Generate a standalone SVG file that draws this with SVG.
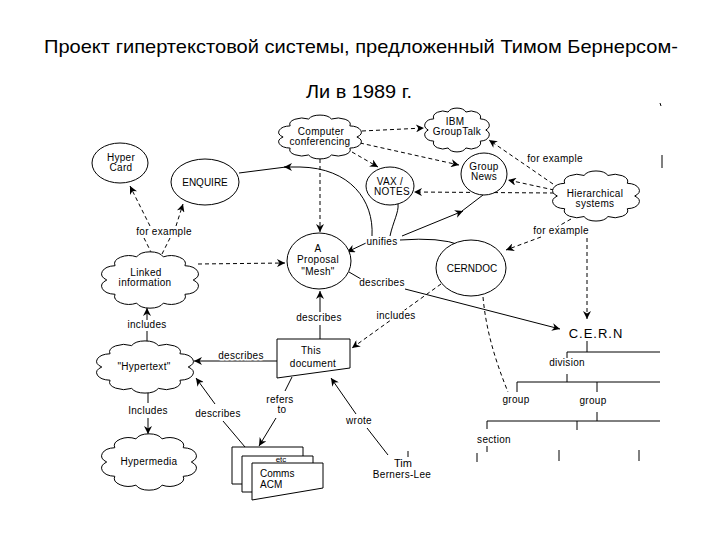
<svg xmlns="http://www.w3.org/2000/svg" xmlns:xlink="http://www.w3.org/1999/xlink" width="720" height="540" viewBox="0 0 720 540">
<style>
.t{font-family:"Liberation Sans",Arial,sans-serif;fill:#000}
.title{font-size:19px}
.lb{font-size:10px;letter-spacing:0.3px;text-anchor:middle}
.lbw{font-size:10px;letter-spacing:0.3px;text-anchor:middle;paint-order:stroke;stroke:#fff;stroke-width:3px;stroke-linejoin:round}
.shape{fill:#fff;stroke:#000;stroke-width:1}
.ln{fill:none;stroke:#000;stroke-width:1}
.ar{fill:none;stroke:#000;stroke-width:1;marker-end:url(#ah)}
.dl{fill:none;stroke:#000;stroke-width:1;stroke-dasharray:4 3}
.da{fill:none;stroke:#000;stroke-width:1;stroke-dasharray:4 3;marker-end:url(#ah)}
</style>
<defs>
<marker id="ah" viewBox="0 0 10 10" refX="10" refY="5" markerWidth="9" markerHeight="8" orient="auto" markerUnits="userSpaceOnUse">
<path d="M0,0 L10,5 L0,10 L3,5 Z" fill="#000"/>
</marker>
<path id="cloud" vector-effect="non-scaling-stroke" d="M0.9,0 A0.3,0.3 0 0 1 0.728,0.529 A0.3,0.3 0 0 1 0.278,0.856 A0.3,0.3 0 0 1 -0.278,0.856 A0.3,0.3 0 0 1 -0.728,0.529 A0.3,0.3 0 0 1 -0.9,0 A0.3,0.3 0 0 1 -0.728,-0.529 A0.3,0.3 0 0 1 -0.278,-0.856 A0.3,0.3 0 0 1 0.278,-0.856 A0.3,0.3 0 0 1 0.728,-0.529 A0.3,0.3 0 0 1 0.9,0 Z"/>
</defs>
<rect width="720" height="540" fill="#fff"/>
<g id="title">
<text class="t title" x="44" y="53" textLength="634" lengthAdjust="spacingAndGlyphs">Проект гипертекстовой системы, предложенный Тимом Бернерсом-</text>
<text class="t title" x="306" y="98" textLength="106" lengthAdjust="spacingAndGlyphs">Ли в 1989 г.</text>
</g>
<g id="connectors">
<path class="da" d="M362,131 L424,128"/>
<path class="da" d="M360,143 L459,165"/>
<path class="da" d="M352,152 L378,167"/>
<path class="da" d="M320,159 L320,232"/>
<path class="da" d="M553,184 L489,140"/>
<path class="da" d="M554,190 L508,180"/>
<path class="da" d="M554,193 L414,192"/>
<path class="dl" d="M571,219 L557,227"/>
<path class="da" d="M541,237 L506,250"/>
<path class="da" d="M587,238 L587,319"/>
<path class="dl" d="M152,254 L144,238"/>
<path class="dl" d="M162,254 L170,238"/>
<path class="da" d="M150,226 L130,186"/>
<path class="da" d="M176,226 L183,204"/>
<path class="da" d="M198,264 L285,263"/>
<path class="ln" d="M147,343 L147,331"/>
<path class="ar" d="M147,320 L147,308"/>
<path class="ar" d="M277,361 L194,361"/>
<path class="ln" d="M320,339 L320,325"/>
<path class="ar" d="M320,312 L320,291"/>
<path class="da" d="M441,284 L352,348"/>
<path class="ln" d="M349,272 L361,279"/>
<path class="ar" d="M405,289 L560,329"/>
<path class="ar" d="M372,236 C374,200 350,168 300,167 L284,167"/>
<path class="ln" d="M286,167 L239,173"/>
<path class="ln" d="M390,236 C393,222 399,212 398,204"/>
<path class="ar" d="M402,236 L463,211"/>
<path class="ln" d="M462,211 L483,195"/>
<path class="ln" d="M400,240 Q440,237 460,245"/>
<path class="ar" d="M366,243 L347,252"/>
<path class="ln" d="M245,447 L223,421"/>
<path class="ar" d="M215,404 L196,378"/>
<path class="ln" d="M292,377 L285,391"/>
<path class="ar" d="M276,418 L259,446"/>
<path class="ln" d="M388,455 L367,428"/>
<path class="ar" d="M356,414 L331,378"/>
<path class="dl" d="M483,297 C486,330 495,360 508,392"/>
<path class="ln" d="M148,392 L148,403"/>
<path class="ar" d="M148,418 L148,434"/>
</g>
<g id="hierarchy">
<path class="ln" d="M587,341 V352 M567,352 H660 M567,352 V358 M567,374 V382 M517,382 H660 M517,382 V392 M597,382 V392 M597,412 V421 M487,421 H660 M487,421 V429 M577,421 V430 M487,446 V452 M477,453 V462 M559,450 V461 M639,450 V461"/>
<path class="ln" d="M660,103 L661,106 M662,155 V168 M408,451 V457"/>
</g>
<g id="hypercard">
<ellipse class="shape" cx="120" cy="163" rx="28" ry="20"/>
<text class="t lb" x="121" y="161">Hyper</text>
<text class="t lb" x="121" y="171">Card</text>
</g>
<g id="enquire">
<ellipse class="shape" cx="205" cy="182" rx="34" ry="23"/>
<text class="t lb" x="205" y="186" style="letter-spacing:0">ENQUIRE</text>
</g>
<g id="computer-conferencing">
<use href="#cloud" class="shape" transform="translate(320,137) scale(41,21)"/>
<text class="t lb" x="321" y="135">Computer</text>
<text class="t lb" x="320" y="145">conferencing</text>
</g>
<g id="ibm-grouptalk">
<use href="#cloud" class="shape" transform="translate(457,130) scale(32,21)"/>
<text class="t lb" x="455" y="125">IBM</text>
<text class="t lb" x="457" y="135">GroupTalk</text>
</g>
<g id="group-news">
<ellipse class="shape" cx="484" cy="174" rx="23" ry="21"/>
<text class="t lb" x="484" y="170">Group</text>
<text class="t lb" x="484" y="180">News</text>
</g>
<g id="vax-notes">
<ellipse class="shape" cx="390" cy="186" rx="24" ry="19"/>
<text class="t lb" x="390" y="185">VAX /</text>
<text class="t lb" x="392" y="195">NOTES</text>
</g>
<g id="hierarchical-systems">
<use href="#cloud" class="shape" transform="translate(596,196) scale(43,24)"/>
<text class="t lb" x="595" y="197">Hierarchical</text>
<text class="t lb" x="595" y="207">systems</text>
</g>
<g id="proposal-mesh">
<ellipse class="shape" cx="319" cy="261" rx="32" ry="28"/>
<text class="t lb" x="318" y="252">A</text>
<text class="t lb" x="318" y="263">Proposal</text>
<text class="t lb" x="318" y="275">"Mesh"</text>
</g>
<g id="cerndoc">
<ellipse class="shape" cx="471" cy="268" rx="35" ry="28"/>
<text class="t lb" x="472" y="272" style="letter-spacing:0">CERNDOC</text>
</g>
<g id="linked-information">
<use href="#cloud" class="shape" transform="translate(150,280) scale(48,27)"/>
<text class="t lb" x="146" y="276">Linked</text>
<text class="t lb" x="145" y="286">information</text>
</g>
<g id="hypertext">
<use href="#cloud" class="shape" transform="translate(145,367) scale(48,25)"/>
<text class="t lb" x="144" y="370">"Hypertext"</text>
</g>
<g id="this-document">
<path class="shape" d="M277,339 H350 V368 L277,378 Z"/>
<text class="t lb" x="311" y="354">This</text>
<text class="t lb" x="313" y="367">document</text>
</g>
<g id="hypermedia">
<use href="#cloud" class="shape" transform="translate(149,462) scale(47,27)"/>
<text class="t lb" x="149" y="465">Hypermedia</text>
</g>
<g id="papers">
<path class="ln" d="M242,484 L232,484 L232,447 L303,447 L303,456"/>
<path class="ln" d="M252,492 L242,492 L242,456 L313,456 L313,463"/>
<path class="shape" d="M252,463 H323 V488 L252,500 Z"/>
<text class="t" x="281" y="461.5" font-size="8" text-anchor="middle">etc</text>
<text class="t" x="260" y="477" font-size="10">Comms</text>
<text class="t" x="260" y="488" font-size="10">ACM</text>
</g>
<g id="cern">
<text class="t" x="596" y="338" font-size="13" letter-spacing="1" text-anchor="middle">C.E.R.N</text>
</g>
<g id="tim-berners-lee">
<text class="t" x="403" y="467" font-size="11" text-anchor="middle">Tim</text>
<text class="t lb" x="402" y="478">Berners-Lee</text>
</g>
<g id="labels">
<text class="t lbw" x="555" y="162">for example</text>
<text class="t lbw" x="561" y="234">for example</text>
<text class="t lbw" x="164" y="235">for example</text>
<text class="t lbw" x="147" y="328">includes</text>
<text class="t lbw" x="241" y="359">describes</text>
<text class="t lbw" x="319" y="321">describes</text>
<text class="t lbw" x="396" y="319">includes</text>
<text class="t lbw" x="382" y="286">describes</text>
<text class="t lbw" x="382" y="245">unifies</text>
<text class="t lbw" x="567" y="366">division</text>
<text class="t lbw" x="516" y="403">group</text>
<text class="t lbw" x="593" y="404">group</text>
<text class="t lbw" x="494" y="443">section</text>
<text class="t lbw" x="148" y="414">Includes</text>
<text class="t lbw" x="218" y="417">describes</text>
<text class="t lbw" x="280" y="403">refers</text>
<text class="t lbw" x="282" y="413">to</text>
<text class="t lbw" x="359" y="424">wrote</text>
</g>
</svg>
